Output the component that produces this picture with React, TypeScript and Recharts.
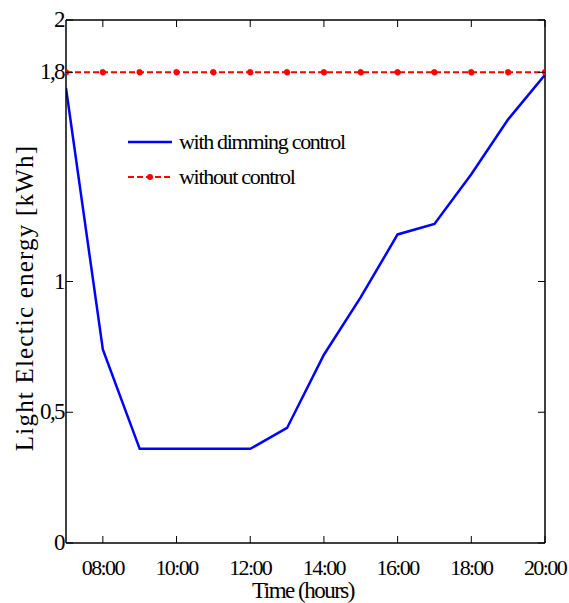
import { LineChart, Line, XAxis, YAxis, Label } from 'recharts'

const hours = [7, 8, 9, 10, 11, 12, 13, 14, 15, 16, 17, 18, 19, 20]
const withDimming = [1.74, 0.74, 0.36, 0.36, 0.36, 0.36, 0.44, 0.72, 0.94, 1.18, 1.22, 1.41, 1.62, 1.79]
const withoutControl = [1.8, 1.8, 1.8, 1.8, 1.8, 1.8, 1.8, 1.8, 1.8, 1.8, 1.8, 1.8, 1.8, 1.8]
const xTicks = [8, 10, 12, 14, 16, 18, 20]
const yTicks = [0, 0.5, 1, 1.8, 2]

const data = hours.map((h, i) => ({ hour: h, dim: withDimming[i], noctl: withoutControl[i] }))

const FONT = '"Liberation Serif", "Times New Roman", serif'
const fmtHour = (h: number) => `${h < 10 ? '0' : ''}${h}:00`
const fmtY = (v: number) => String(v).replace('.', ',')

const BottomTick = ({ x, y, payload }: any) => (
  <g>
    <line x1={x} x2={x} y1={y} y2={y - 7} stroke="#000" strokeWidth={1} />
    <text x={x} y={y + 32} textAnchor="middle" fontFamily={FONT} fontSize={22} letterSpacing={-1.6} fill="#000">
      {fmtHour(payload.value)}
    </text>
  </g>
)

const TopTick = ({ x, y }: any) => <line x1={x} x2={x} y1={y} y2={y + 7} stroke="#000" strokeWidth={1} />

const LeftTick = ({ x, y, payload }: any) => (
  <g>
    <line x1={x} x2={x + 7} y1={y} y2={y} stroke="#000" strokeWidth={1} />
    <text x={x - 2} y={y + 7} textAnchor="end" fontFamily={FONT} fontSize={23} letterSpacing={-1.6} fill="#000">
      {fmtY(payload.value)}
    </text>
  </g>
)

const RightTick = ({ x, y }: any) => <line x1={x} x2={x - 7} y1={y} y2={y} stroke="#000" strokeWidth={1} />

const LegendBox = () => (
  <svg width={260} height={60}>
    <line x1={3} x2={47} y1={14} y2={14} stroke="#0000ff" strokeWidth={2.5} />
    <text x={54} y={21} fontFamily={FONT} fontSize={22} letterSpacing={-1.3} fill="#000">
      with dimming control
    </text>
    <line x1={3} x2={47} y1={49} y2={49} stroke="#ff0000" strokeWidth={2} strokeDasharray="6 3" />
    <circle cx={25} cy={49} r={3} fill="#ff0000" />
    <text x={54} y={56} fontFamily={FONT} fontSize={22} letterSpacing={-1.3} fill="#000">
      without control
    </text>
  </svg>
)

export default function App() {
  return (
    <div style={{ position: 'absolute', left: 0, top: 0, width: 569, height: 603, background: '#fff' }}>
      <LineChart width={569} height={603} data={data} margin={{ top: 19, right: 23, bottom: 0, left: 0 }}>
        <XAxis
          dataKey="hour"
          type="number"
          domain={[7, 20]}
          ticks={xTicks}
          tick={<BottomTick />}
          tickSize={0}
          tickMargin={0}
          height={60}
          axisLine={{ stroke: '#000', strokeWidth: 1.5 }}
          tickLine={false}
          allowDataOverflow
        >
          <Label
            content={() => (
              <text x={303} y={598} textAnchor="middle" fontFamily={FONT} fontSize={23} letterSpacing={-1.5} fill="#000">
                Time (hours)
              </text>
            )}
          />
        </XAxis>
        <XAxis
          xAxisId="top"
          dataKey="hour"
          type="number"
          orientation="top"
          domain={[7, 20]}
          ticks={xTicks}
          tick={<TopTick />}
          tickSize={0}
          tickMargin={0}
          height={1}
          axisLine={{ stroke: '#000', strokeWidth: 1.5 }}
          tickLine={false}
          allowDataOverflow
        />
        <YAxis
          type="number"
          domain={[0, 2]}
          ticks={yTicks}
          tick={<LeftTick />}
          tickSize={0}
          tickMargin={0}
          width={66}
          axisLine={{ stroke: '#000', strokeWidth: 1.5 }}
          tickLine={false}
          allowDataOverflow
        >
          <Label
            content={() => (
              <text
                x={33}
                y={298}
                transform="rotate(-90 33 298)"
                textAnchor="middle"
                fontFamily={FONT}
                fontSize={25}
                letterSpacing={1.2}
                fill="#000"
              >
                Light Electic energy  [kWh]
              </text>
            )}
          />
        </YAxis>
        <YAxis
          yAxisId="right"
          type="number"
          orientation="right"
          domain={[0, 2]}
          ticks={yTicks}
          tick={<RightTick />}
          tickSize={0}
          tickMargin={0}
          width={1}
          axisLine={{ stroke: '#000', strokeWidth: 1.5 }}
          tickLine={false}
          allowDataOverflow
        />
        <Line
          dataKey="dim"
          name="with dimming control"
          stroke="#0000ff"
          strokeWidth={2.5}
          dot={false}
          isAnimationActive={false}
        />
        <Line
          dataKey="noctl"
          name="without control"
          stroke="#ff0000"
          strokeWidth={2}
          strokeDasharray="6 3"
          dot={{ r: 3, fill: '#ff0000', stroke: '#ff0000', strokeWidth: 0.5 }}
          isAnimationActive={false}
        />
      </LineChart>
      <div style={{ position: 'absolute', left: 125, top: 128 }}>
        <LegendBox />
      </div>
    </div>
  )
}
